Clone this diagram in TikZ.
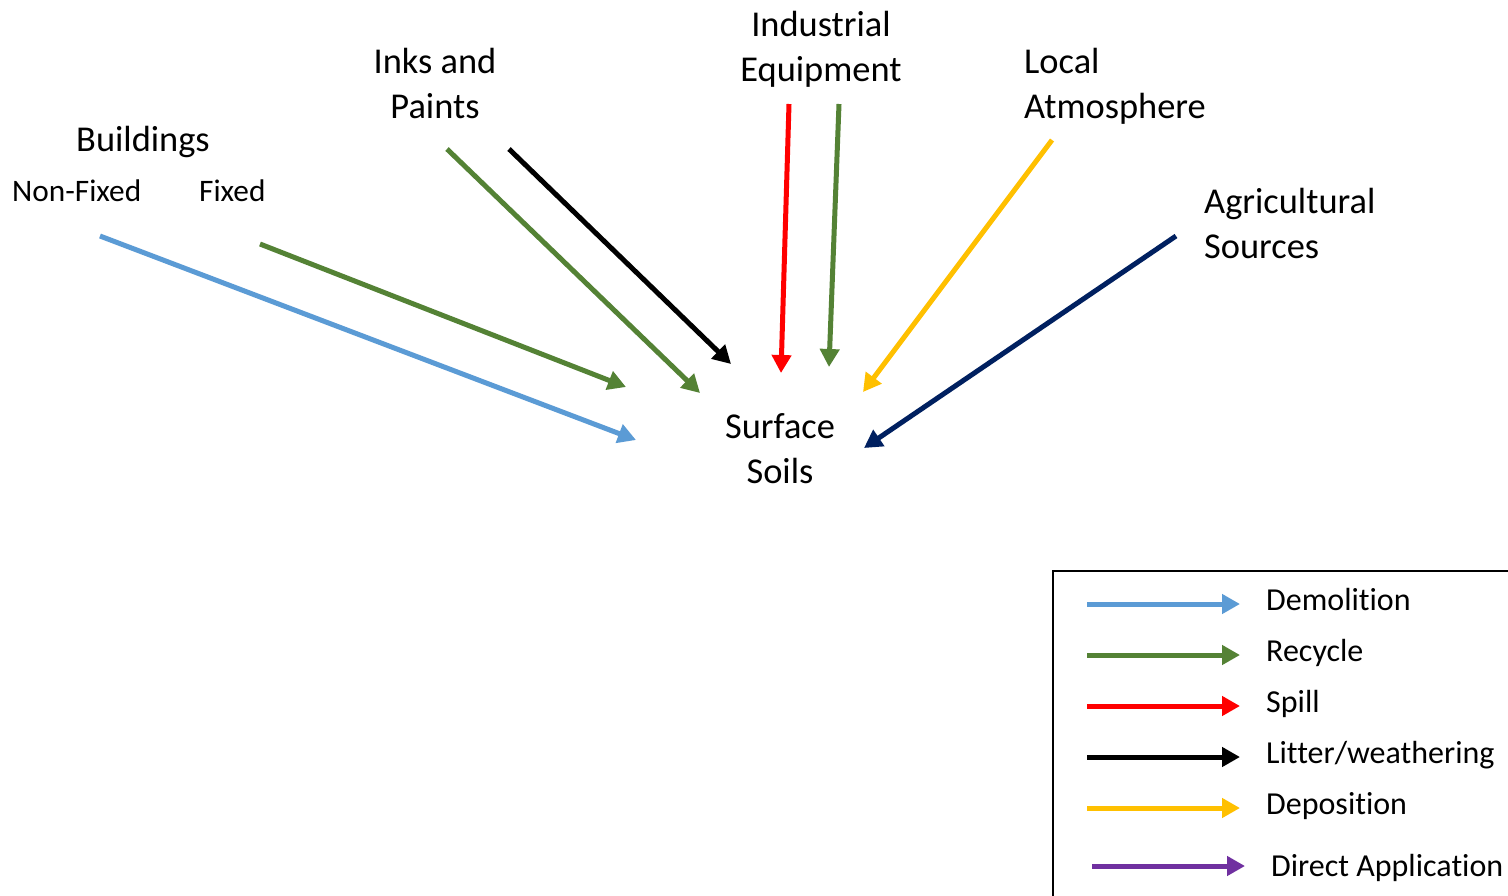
\documentclass[tikz,border=0pt]{standalone}
\usepackage{fontspec}
\setmainfont{Carlito}[Ligatures=NoCommon]
\usetikzlibrary{arrows.meta}
\definecolor{demol}{HTML}{5B9BD5}
\definecolor{recyc}{HTML}{548235}
\definecolor{spill}{HTML}{FF0000}
\definecolor{litter}{HTML}{000000}
\definecolor{depos}{HTML}{FFC000}
\definecolor{agri}{HTML}{002060}
\definecolor{direct}{HTML}{7030A0}
\tikzset{
  big/.style={font=\fontsize{36.4}{45}\selectfont, inner sep=0pt, align=center},
  small/.style={font=\fontsize{31.3}{38}\selectfont, inner sep=0pt},
  legtext/.style={font=\fontsize{32}{38}\selectfont, inner sep=0pt, anchor=base west},
  flow/.style={line width=5pt, -{Triangle[length=18pt,width=19pt]}},
}
\begin{document}
\begin{tikzpicture}[x=1pt,y=-1pt]
\clip (0,0) rectangle (1508,895);
\fill[white] (0,0) rectangle (1508,895);

% source and sink labels (two-line labels are placed by their last baseline)
\node[big, anchor=base] (bld) at (143,151) {Buildings};
\node[small, anchor=base west] (nonfixed) at (12,201) {Non-Fixed};
\node[small, anchor=base west] (fixed) at (199,201) {Fixed};
\node[big, anchor=base] (inks) at (435,118) {Inks and\\Paints};
\node[big, anchor=base] (indus) at (821,81) {Industrial\\Equipment};
\node[big, anchor=base west, align=left] (atmo) at (1024,118) {Local\\Atmosphere};
\node[big, anchor=base west, align=left] (agsrc) at (1204,258) {Agricultural\\Sources};
\node[big, anchor=base] (soil) at (780,483) {Surface\\Soils};

% arrow end points
\coordinate (nfA) at (100,236);  \coordinate (nfB) at (636,440);
\coordinate (fxA) at (260,244);  \coordinate (fxB) at (626,387);
\coordinate (ipA) at (447,149);  \coordinate (ipB) at (700,393);
\coordinate (ilA) at (509,149);  \coordinate (ilB) at (731,364);
\coordinate (esA) at (789,104);  \coordinate (esB) at (781,373);
\coordinate (erA) at (839,104);  \coordinate (erB) at (829,367);
\coordinate (laA) at (1052,140); \coordinate (laB) at (863,392);
\coordinate (agA) at (1176,236); \coordinate (agB) at (864,448);

\draw[flow, demol]  (nfA) -- (nfB);
\draw[flow, recyc]  (fxA) -- (fxB);
\draw[flow, recyc]  (ipA) -- (ipB);
\draw[flow, litter] (ilA) -- (ilB);
\draw[flow, spill]  (esA) -- (esB);
\draw[flow, recyc]  (erA) -- (erB);
\draw[flow, depos]  (laA) -- (laB);
\draw[flow, agri]   (agA) -- (agB);

% legend
\draw[line width=2pt] (1053,571) rectangle (1530,920);
\foreach \c/\y/\t/\n in {demol/604/Demolition/lg1, recyc/655/Recycle/lg2,
    spill/706/Spill/lg3, litter/757/Litter\slash weathering/lg4, depos/808/Deposition/lg5} {
  \coordinate (\n a) at (1087,\y);
  \coordinate (\n b) at (1240,\y);
  \draw[flow, \c] (\n a) -- (\n b);
  \node[legtext] (\n t) at (1266,\y+6) {\t};
}
\coordinate (lg6a) at (1092,866);
\coordinate (lg6b) at (1245,866);
\draw[flow, direct] (lg6a) -- (lg6b);
\node[legtext] (lg6t) at (1271,876) {Direct Application};
\end{tikzpicture}
\end{document}
